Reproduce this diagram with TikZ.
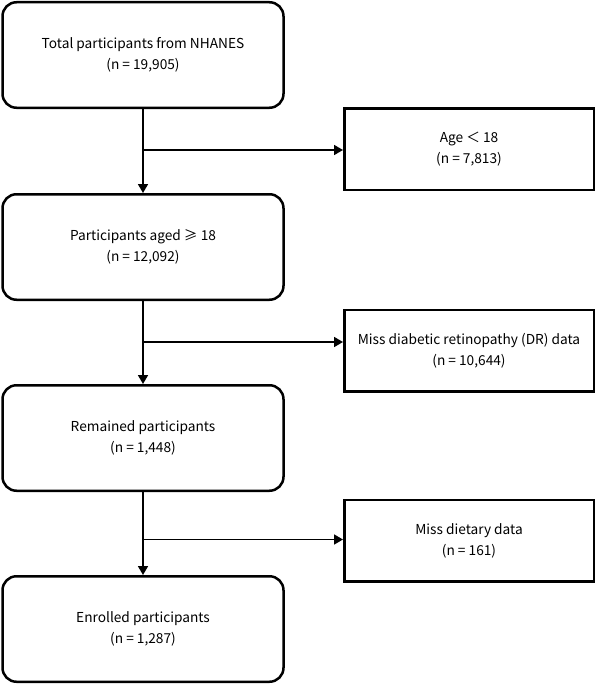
\documentclass[tikz,border=0pt]{standalone}
\usepackage{fontspec}
\setmainfont{Noto Sans CJK SC}
\usetikzlibrary{arrows.meta,positioning}
\tikzset{
  stage/.style={draw, line width=2.5pt, rounded corners=14pt, minimum width=281pt, minimum height=105.5pt, inner sep=0pt, align=center, font=\fontsize{13.7}{21}\selectfont},
  excluded/.style={draw, line width=2.5pt, minimum width=249.5pt, minimum height=81.5pt, inner sep=0pt, align=center, font=\fontsize{13.7}{21}\selectfont},
  flow/.style={line width=1.7pt, -{Triangle[width=10pt,length=9pt]}}
}
\begin{document}
\begin{tikzpicture}[node distance=191pt,on grid]
   \useasboundingbox (0pt,0pt) rectangle (596pt,-685pt);
   \node [stage] (total) at (143pt,-55pt) {Total participants from NHANES\\(n = 19,905)};
   \node [stage] (adults) [below=192pt of total] {Participants aged ≥ 18\\(n = 12,092)};
   \node [stage] (remained) [below= of adults] {Remained participants\\(n = 1,448)};
   \node [stage] (enrolled) [below= of remained] {Enrolled participants\\(n = 1,287)};
   \node [excluded] (excl1) [below right=94pt and 326pt of total] {Age ＜ 18\\(n = 7,813)};
   \node [excluded] (excl2) [below right=103.5pt and 326pt of adults] {Miss diabetic retinopathy (DR) data\\(n = 10,644)};
   \node [excluded] (excl3) [below right=102.5pt and 326pt of remained] {Miss dietary data\\(n = 161)};
   \coordinate [below=95pt of total] (split1);
   \coordinate [below=95pt of adults] (split2);
   \coordinate [below=101.5pt of remained] (split3);
    \path[flow]
    (total) edge (adults)
    (adults) edge (remained)
    (remained) edge (enrolled)
    (split1) edge (split1 -| excl1.west)
    (split2) edge (split2 -| excl2.west)
    (split3) edge (split3 -| excl3.west);
\end{tikzpicture}
\end{document}
